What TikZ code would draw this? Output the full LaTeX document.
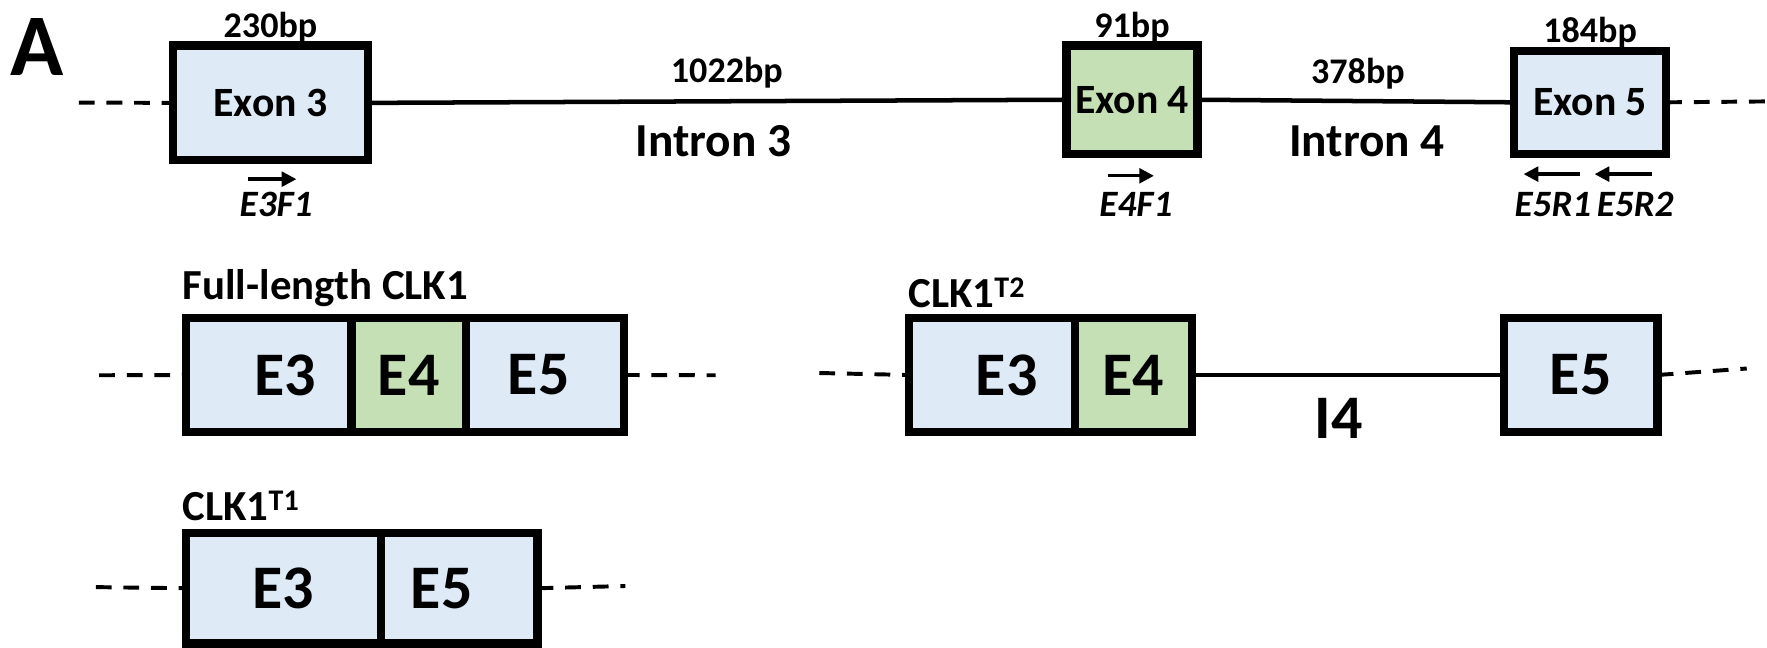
\documentclass[tikz,border=0pt]{standalone}
\usepackage{fontspec}
\setmainfont{Carlito}
\usetikzlibrary{positioning}
\usetikzlibrary{arrows.meta}
\usetikzlibrary{calc}

\definecolor{exonblue}{HTML}{DEEAF6}
\definecolor{exongreen}{HTML}{C5E0B4}
\newcommand{\fsz}[1]{\fontsize{#1}{#1}\selectfont}

\begin{document}
\begin{tikzpicture}[x=1pt, y=-1pt,
    exon/.style={draw=black, line width=7.5pt, fill=exonblue, inner sep=0pt, outer sep=0pt, font=\fsz{37}\bfseries},
    alt/.style={exon, fill=exongreen},
    part/.style={exon, font=\fsz{55}\bfseries},
    altpart/.style={part, fill=exongreen},
    rowtxt/.style={inner sep=0pt, font=\fsz{55}\bfseries},
    bplab/.style={inner sep=0pt, font=\fsz{32}\bfseries},
    intronlab/.style={inner sep=0pt, font=\fsz{42}\bfseries},
    primerlab/.style={inner sep=0pt, font=\fsz{33}\bfseries\itshape},
    formlab/.style={inner sep=0pt, font=\fsz{38}\bfseries, anchor=base west},
    intron/.style={line width=4pt},
    flank/.style={line width=3.5pt, dash pattern=on 14pt off 10.5pt},
    primer/.style={line width=3pt, -{Triangle[length=13pt, width=13pt]}}]
    \useasboundingbox (0,0) rectangle (1568,575);
    \node[inner sep=0pt, font=\fsz{78}\bfseries] (panel) at (33,42) {A};

    \node[exon, minimum width=173pt, minimum height=101.5pt] (ex3) at (240,91.3) {Exon 3};
    \node[alt, minimum width=116pt, minimum height=96pt] (ex4) at (1004.5,88.5) {Exon 4};
    \node[exon, minimum width=135pt, minimum height=91.5pt] (ex5) at (1411,90.8) {Exon 5};
    \node[bplab, above=2pt of ex3] (bp3) {230bp};
    \node[bplab, above=2pt of ex4] (bp4) {91bp};
    \node[bplab, above=2pt of ex5] (bp5) {184bp};
    \coordinate (l1) at (70,91);
    \coordinate (r1) at (1568,90);
    \draw[flank] (l1) -- (ex3.west);
    \draw[intron] (ex3.east) -- (ex4.west);
    \draw[intron] (ex4.east) -- (ex5.west);
    \draw[flank] (ex5.east) -- (r1);
    \node[bplab, anchor=base] (bpi3) at (645,73) {1022bp};
    \node[bplab, anchor=base] (bpi4) at (1205,74) {378bp};
    \node[intronlab, anchor=base] (in3) at (633,139) {Intron 3};
    \node[intronlab, anchor=base] (in4) at (1213,139) {Intron 4};

    \node[primerlab, anchor=base] (e3f1) at (245,192.5) {E3F1};
    \node[primerlab, anchor=base] (e4f1) at (1008,192.5) {E4F1};
    \node[primerlab, anchor=base] (e5r1) at (1378,192.5) {E5R1};
    \node[primerlab, anchor=base] (e5r2) at (1451,192.5) {E5R2};
    \coordinate (p1a) at (220,159); \coordinate (p1b) at (263,159);
    \coordinate (p2a) at (983,156); \coordinate (p2b) at (1024,156);
    \coordinate (p3a) at (1402,154.5); \coordinate (p3b) at (1352,154.5);
    \coordinate (p4a) at (1466,154.5); \coordinate (p4b) at (1415,154.5);
    \draw[primer] (p1a) -- (p1b);
    \draw[primer] (p2a) -- (p2b);
    \draw[primer] (p3a) -- (p3b);
    \draw[primer] (p4a) -- (p4b);

    \node[formlab] (full) at (162,266) {Full-length CLK1};
    \node[part, minimum width=147pt, minimum height=101.5pt, label={[rowtxt, xshift=14.5pt]center:E3}] (fe3) at (238.5,332.75) {};
    \node[altpart, minimum width=101.5pt, minimum height=101.5pt] (fe4) at (362.75,332.75) {E4};
    \node[part, minimum width=140pt, minimum height=101.5pt, label={[rowtxt, xshift=-5.5pt]center:E5}] (fe5) at (483.5,332.75) {};
    \coordinate (l2) at (88,333);
    \coordinate (r2) at (635,333);
    \draw[flank] (l2) -- (fe3.west);
    \draw[flank] (fe5.east) -- (r2);

    \node[formlab] (ttwo) at (806,273) {CLK1\textsuperscript{T2}};
    \node[part, minimum width=147.5pt, minimum height=101.5pt, label={[rowtxt, xshift=13pt]center:E3}] (te3) at (880.25,332.75) {};
    \node[altpart, minimum width=103.5pt, minimum height=101.5pt] (te4) at (1005.75,332.75) {E4};
    \node[part, minimum width=136.5pt, minimum height=101.5pt] (te5) at (1402.75,332.75) {E5};
    \draw[intron] (te4.east) -- (te5.west);
    \node[rowtxt, anchor=base] (i4) at (1188,389) {I4};
    \coordinate (l3) at (727,331);
    \coordinate (r3) at (1550,327);
    \draw[flank] (l3) -- (te3.west);
    \draw[flank] (te5.east) -- (r3);

    \node[formlab] (tone) at (162,462) {CLK1\textsuperscript{T1}};
    \node[part, minimum width=173pt, minimum height=98pt] (ue3) at (251.5,522) {E3};
    \node[part, minimum width=139pt, minimum height=98pt, label={[rowtxt, xshift=-15.5pt]center:E5}] (ue5) at (407.5,522) {};
    \coordinate (l4) at (85,521);
    \coordinate (r4) at (555,520);
    \draw[flank] (l4) -- (ue3.west);
    \draw[flank] (ue5.east) -- (r4);
\end{tikzpicture}
\end{document}
